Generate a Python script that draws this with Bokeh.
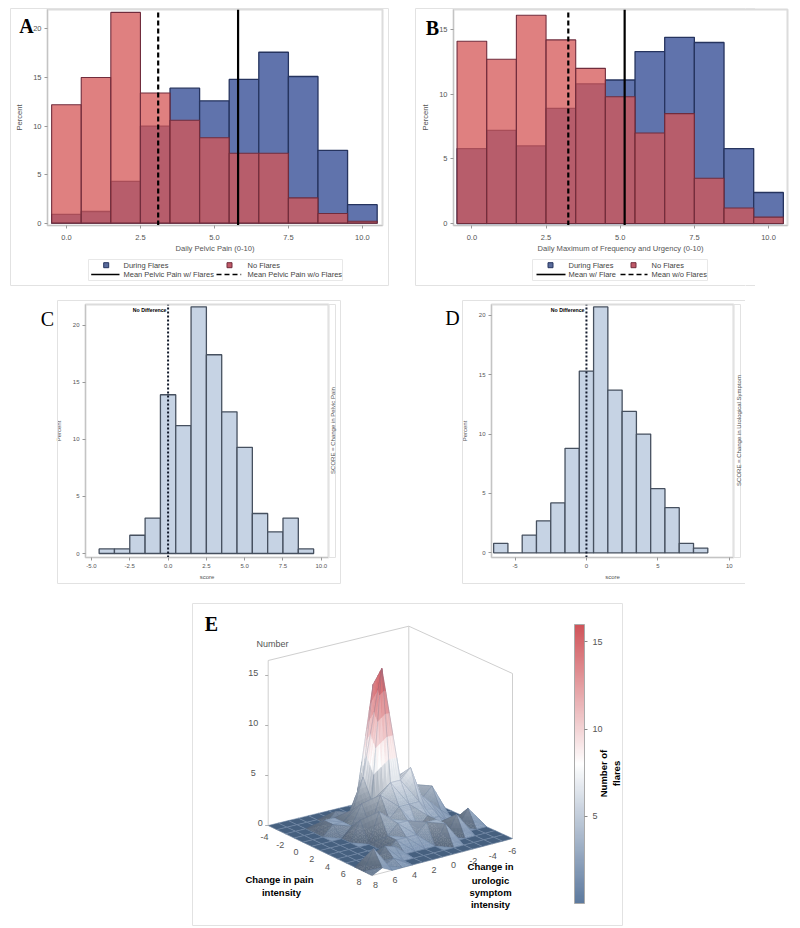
import math
from bokeh.embed import file_html
from bokeh.layouts import column
from bokeh.models import ColorBar, FixedTicker, LinearColorMapper, Range1d
from bokeh.plotting import figure
from bokeh.core.properties import value
from bokeh.resources import INLINE

# ---------- data ----------
HIST_BINS = [0, 1, 2, 3, 4, 5, 6, 7, 8, 9, 10]
A_DURING = [0.9, 1.2, 4.3, 10.0, 13.9, 12.6, 14.8, 17.6, 15.1, 7.5, 1.9]
A_NOFLARE = [12.2, 15.0, 21.7, 13.4, 10.6, 8.8, 7.2, 7.2, 2.6, 1.0, 0.2]
A_MEANS = [5.8, 3.1]
B_DURING = [5.8, 7.2, 6.0, 8.9, 10.8, 11.1, 13.3, 14.4, 14.0, 5.8, 2.4]
B_NOFLARE = [14.1, 12.7, 16.1, 14.2, 12.0, 9.8, 7.0, 8.5, 3.5, 1.2, 0.5]
B_MEANS = [5.15, 3.25]
C_BINS = [-4, -3, -2, -1, 0, 1, 2, 3, 4, 5, 6, 7, 8, 9]
C_PCT = [0.4, 0.4, 1.6, 3.1, 13.9, 11.2, 21.6, 17.4, 12.4, 9.3, 3.5, 1.9, 3.1, 0.4]
D_BINS = [-6, -5, -4, -3, -2, -1, 0, 1, 2, 3, 4, 5, 6, 7, 8]
D_PCT = [0.8, 0.0, 1.5, 2.7, 4.2, 8.8, 15.3, 20.7, 13.7, 11.9, 10.0, 5.4, 3.8, 0.8, 0.4]
E_PAIN = [-4, -3, -2, -1, 0, 1, 2, 3, 4, 5, 6, 7, 8]
E_URO = [-6, -5, -4, -3, -2, -1, 0, 1, 2, 3, 4, 5, 6, 7, 8]
E_Z = [
    [0, 0, 0, 0, 0, 0, 0, 0, 0, 0, 0, 0, 0, 0, 0],
    [0, 0, 0, 0, 0, 0, 0, 0, 0, 0, 0, 0, 0, 0, 0],
    [0, 0, 0, 0, 0, 0, 0, 0, 0, 1, 0, 0, 0, 0, 0],
    [0, 0, 0, 0, 0, 0, 0, 0, 1, 0, 1, 1, 0, 0, 0],
    [0, 0, 1, 3, 4, 3, 4, 14, 5, 2, 1, 1, 0, 0, 0],
    [0, 0, 3, 2, 3, 5, 4, 16, 3, 3, 1, 0, 0, 0, 0],
    [0, 0, 1, 2, 3, 6, 5, 5, 4, 1, 2, 0, 0, 0, 0],
    [0, 0, 0, 1, 1, 3, 3, 3, 2, 3, 0, 0, 0, 0, 0],
    [0, 1.7, 0, 0, 1, 2, 1, 2, 2, 1, 0, 0, 0, 0, 0],
    [0, 0, 0, 2, 0, 2, 2, 1, 1, 1, 0, 0, 0, 0, 0],
    [0, 0, 0, 0, 0, 2, 0, 0, 0, 0, 1, 1.3, 0, 0, 0],
    [0, 0, 0, 0, 0, 0, 0, 0, 0, 0, 0, 0.5, 0, 2, 0],
    [0, 0, 0, 0, 0, 0, 0, 0, 0, 0, 0, 0, 0, 0.5, 0],
]
E_ZTICKS = [0, 5, 10, 15]
E_AXTICKS_P = [-4, -2, 0, 2, 4, 6, 8]
E_AXTICKS_U = [8, 6, 4, 2, 0, -2, -4, -6]
A_LEGEND = ["During Flares", "No Flares", "Mean Pelvic Pain w/ Flares", "Mean Pelvic Pain w/o Flares"]
B_LEGEND = ["During Flares", "No Flares", "Mean w/ Flare", "Mean w/o Flares"]

# ---------- style ----------
SANS = "Liberation Sans"
SERIF = "Liberation Serif"
GRAY = "#dcdcdc"
TXT = "#555555"
BLUE, BLUE_LINE = "#6073ac", "#26345f"
RED, RED_LINE = "#d45555", "#702c3c"
LEFT_BORDER = 45  # every panel in the column keeps this left border, the column lines up their frames


def panel(win, frame, xr, yr, xticks, yticks, xlabel, xfmt=None, fs="7.5px", lfs="7.6px", ystand=5,
          xtick_stand=6, xlab_stand=1):
    x0, y0, x1, y1 = win
    l, t, r, b = frame
    p = figure(frame_width=r - l, frame_height=b - t, x_range=Range1d(*xr), y_range=Range1d(*yr),
               output_backend="svg", toolbar_location=None,
               min_border_left=l - x0, min_border_right=x1 - r, min_border_top=t - y0, min_border_bottom=y1 - b,
               border_fill_color=None, background_fill_color="white",
               styles={"position": "absolute", "left": f"{x0}px", "top": f"{y0}px"})
    p.grid.visible = False
    p.outline_line_color = GRAY
    p.outline_line_width = 2
    for ax in (p.xaxis[0], p.yaxis[0]):
        ax.axis_line_color = "#c4c4c4"
        ax.major_tick_line_color = "#999999"
        ax.major_tick_in = 0
        ax.major_tick_out = 3
        ax.minor_tick_line_color = None
        ax.major_label_text_font = SANS
        ax.major_label_text_font_size = fs
        ax.major_label_text_color = TXT
        ax.major_label_standoff = 3
        ax.axis_label_text_font = SANS
        ax.axis_label_text_font_size = lfs
        ax.axis_label_text_font_style = "normal"
        ax.axis_label_text_color = TXT
    p.xaxis[0].major_label_standoff = xtick_stand
    p.xaxis[0].axis_label_standoff = xlab_stand
    p.yaxis[0].axis_label_standoff = ystand
    p.xaxis[0].ticker = FixedTicker(ticks=xticks)
    p.yaxis[0].ticker = FixedTicker(ticks=yticks)
    if xfmt:
        p.xaxis[0].major_label_overrides = xfmt
    p.xaxis[0].axis_label = xlabel
    p.yaxis[0].axis_label = "Percent"
    return p


FMT25 = {-5: "-5.0", -2.5: "-2.5", 0: "0.0", 2.5: "2.5", 5: "5.0", 7.5: "7.5", 10: "10.0"}
FMT5 = {-5: "-5", 0: "0", 5: "5", 10: "10"}


def overlay_panel(win, frame, xr, yr, during, noflare, means, xlabel, yticks):
    p = panel(win, frame, xr, yr, [0, 2.5, 5, 7.5, 10], yticks, xlabel, FMT25, ystand=6)
    p.vbar(x=HIST_BINS, top=during, width=1, bottom=0, fill_color=BLUE, line_color=BLUE_LINE, line_width=1.3)
    p.vbar(x=HIST_BINS, top=noflare, width=1, bottom=0, fill_color=RED, fill_alpha=0.75,
           line_color=RED_LINE, line_width=1.1)
    p.line([means[0], means[0]], list(yr), line_color="black", line_width=2.2)
    p.line([means[1], means[1]], list(yr), line_color="black", line_width=2.2, line_dash="5 3")
    return p


def single_panel(win, frame, xr, yr, bins, pct, xticks, xfmt, yticks):
    p = panel(win, frame, xr, yr, xticks, yticks, "score", xfmt, "6px", "6px", 8, 3, 3)
    p.vbar(x=bins, top=pct, width=1, bottom=0, fill_color="#c6d3e4", line_color="#46505f", line_width=1.3)
    p.line([0, 0], list(yr), line_color="#10182a", line_width=2, line_dash="2 2")
    return p


pa = overlay_panel((2, 2, 392, 262), (47, 9, 382, 225), (-0.64, 10.68), (-0.24, 22.0), A_DURING, A_NOFLARE, A_MEANS,
                   "Daily Pelvic Pain (0-10)", [0, 5, 10, 15, 20])
pb = overlay_panel((408, 2, 797, 262), (453, 9, 787, 225), (-0.62, 10.64), (-0.15, 16.55), B_DURING, B_NOFLARE, B_MEANS,
                   "Daily Maximum of Frequency and Urgency (0-10)", [0, 5, 10, 15])
pc = single_panel((40, 296, 338, 590), (85, 304, 328, 557), (-5.39, 10.47), (-0.35, 21.8), C_BINS, C_PCT,
                  [-5, -2.5, 0, 2.5, 5, 7.5, 10], FMT25, [0, 5, 10, 15, 20])
pd_ = single_panel((446, 296, 743, 590), (491, 304, 733, 557), (-6.65, 10.3), (-0.39, 20.9), D_BINS, D_PCT,
                   [-5, 0, 5, 10], FMT5, [0, 5, 10, 15, 20])

# ---------- full page layer: panel frames, letters, legends, panel E ----------
pe = figure(frame_width=790, frame_height=928, x_range=Range1d(0, 790), y_range=Range1d(928, 0),
            x_axis_location=None, y_axis_location=None,
            output_backend="svg", toolbar_location=None, min_border=0, border_fill_color=None,
            background_fill_color=None,
            styles={"position": "absolute", "left": f"{-LEFT_BORDER}px", "top": "0px", "z-index": "10"})
pe.grid.visible = False
pe.outline_line_color = None

# narrow layer that carries the right end of panel B's frame
OVER_X = 745
pf = figure(frame_width=800 - OVER_X, frame_height=928, x_range=Range1d(OVER_X, 800), y_range=Range1d(928, 0),
            x_axis_location=None, y_axis_location=None,
            output_backend="svg", toolbar_location=None, min_border=0, border_fill_color=None,
            background_fill_color=None,
            styles={"position": "absolute", "left": f"{OVER_X - LEFT_BORDER}px", "top": "0px", "z-index": "10"})
pf.grid.visible = False
pf.outline_line_color = None


def txt(s, x, y, size="7.6px", color=TXT, style="normal", font=SANS, align="center", angle=0):
    pe.text([x], [y], text=[s], angle=angle, text_font=value(font), text_font_size=value(size), text_color=color,
            text_font_style=style, text_align=align, text_baseline="middle")


def box(l, t, r, b, color="#e2e2e2", w=1, fig=None):
    (fig or pe).quad(left=[l], right=[r], top=[t], bottom=[b], fill_color=None, line_color=color, line_width=w)


for o in [(10, 8, 388, 285), (415, 8, 787, 285), (57, 300, 340, 583), (462, 300, 745, 583), (192, 603, 622, 925)]:
    box(*o)
box(415, 8, 787, 285, fig=pf)
box(328, 304, 335, 557)
box(733, 304, 740, 557)

for s, x, y, st in [("A", 26, 25, "bold"), ("B", 432, 27, "bold"), ("C", 47, 318, "normal"), ("D", 452, 317, "normal"),
                    ("E", 211, 623, "bold")]:
    txt(s, x, y, "20px", "black", st, SERIF)

txt("No Difference", 166, 309, "5.2px", "black", "bold", align="right")
txt("No Difference", 584, 309, "5.2px", "black", "bold", align="right")
txt("SCORE = Change in Pelvic Pain", 332, 430, "6px", TXT, angle=math.pi / 2)
txt("SCORE = Change in Urological Symptom", 738, 430, "6px", TXT, angle=math.pi / 2)


def legend(labels, bx, y1, y2, sw1, l1, t1, sw2, l2, t2):
    box(*bx, color="#e8e8e8")
    pe.scatter([sw1], [y1], marker="square", size=5, fill_color="#5a6c9c", line_color=BLUE_LINE)
    pe.scatter([sw2], [y1], marker="square", size=5, fill_color="#c05a68", line_color=RED_LINE)
    pe.line(list(l1), [y2, y2], line_color="black", line_width=1.6)
    pe.line(list(l2), [y2, y2], line_color="black", line_width=1.6, line_dash="5 3")
    txt(labels[0], t1, y1, "7.5px", "#444444", align="left")
    txt(labels[1], t2, y1, "7.5px", "#444444", align="left")
    txt(labels[2], t1, y2, "7.5px", "#444444", align="left")
    txt(labels[3], t2, y2, "7.5px", "#444444", align="left")


legend(A_LEGEND, (88, 259, 342, 280), 264.7, 274, 105.7, (90.7, 119), 123, 229, (216, 240.7), 247)
legend(B_LEGEND, (532, 259, 707, 280), 264.7, 274, 550, (536, 565), 568, 633, (620, 647), 651)

# panel E surface
C_L, C_F, C_R, C_B = (267.7, 825.0), (371.7, 875.0), (512.0, 838.0), (408.3, 790.7)
Z_PX = 10.0
ZTOP = 16.5


def project(pain, uro, z):
    a = (pain - E_PAIN[0]) / (E_PAIN[-1] - E_PAIN[0])
    b = (E_URO[-1] - uro) / (E_URO[-1] - E_URO[0])
    x = (1 - a) * (1 - b) * C_L[0] + a * (1 - b) * C_F[0] + (1 - a) * b * C_B[0] + a * b * C_R[0]
    y = (1 - a) * (1 - b) * C_L[1] + a * (1 - b) * C_F[1] + (1 - a) * b * C_B[1] + a * b * C_R[1]
    return x, y - z * Z_PX


CM_LOW, CM_MID, CM_HIGH = (93, 122, 159), (255, 255, 255), (208, 84, 90)


def cmap(v, k=1.0):
    t = max(0.0, min(1.0, v / 16.0))
    if t < 0.5:
        c = [CM_LOW[i] + (CM_MID[i] - CM_LOW[i]) * t / 0.5 for i in range(3)]
    else:
        c = [CM_MID[i] + (CM_HIGH[i] - CM_MID[i]) * (t - 0.5) / 0.5 for i in range(3)]
    return "#%02x%02x%02x" % tuple(int(max(0, min(255, x * k))) for x in c)


PALETTE = [cmap(16 * i / 255) for i in range(256)]

LIGHT = (0.5, -0.5, 0.7)

xs, ys, fills, fa, lines, lw, la = [], [], [], [], [], [], []


def push(v, fill, alpha, line, width, lalpha):
    xs.append([project(*q)[0] for q in v])
    ys.append([project(*q)[1] for q in v])
    fills.append(fill)
    fa.append(alpha)
    lines.append(line)
    lw.append(width)
    la.append(lalpha)


def add_tri(v, k):
    N = 5
    a, b, c = v
    P = lambda i, j: tuple(a[m] + (b[m] - a[m]) * i / N + (c[m] - a[m]) * j / N for m in range(3))
    for i in range(N):
        for j in range(N - i):
            tris = [(P(i, j), P(i + 1, j), P(i, j + 1))]
            if i + j < N - 1:
                tris.append((P(i + 1, j), P(i + 1, j + 1), P(i, j + 1)))
            for t in tris:
                zm = sum(q[2] for q in t) / 3
                kk = k + (1 - k) * min(1.0, zm / 7)
                col = cmap(zm + 1.8 * (1 - zm / 16), kk)
                push(t, col, 1, col, 0.4, 1)
    push(v, "#000000", 0, "#4a6180", 0.4, 0.45)


def shade(v):
    (x1, y1, z1), (x2, y2, z2), (x3, y3, z3) = v
    ux, uy, uz = x2 - x1, y2 - y1, z2 - z1
    wx, wy, wz = x3 - x1, y3 - y1, z3 - z1
    n = [uy * wz - uz * wy, uz * wx - ux * wz, ux * wy - uy * wx]
    if n[2] < 0:
        n = [-c for c in n]
    m = math.sqrt(sum(c * c for c in n)) or 1
    d = sum(n[i] * LIGHT[i] for i in range(3)) / m
    return max(0.66, min(1.0, 0.55 + 0.65 * d))


for i in range(len(E_PAIN) - 1):
    for j in range(len(E_URO) - 1):
        p0, p1 = E_PAIN[i], E_PAIN[i + 1]
        u0, u1 = E_URO[j], E_URO[j + 1]
        q00 = (p0, u0, E_Z[i][j])
        q01 = (p0, u1, E_Z[i][j + 1])
        q10 = (p1, u0, E_Z[i + 1][j])
        q11 = (p1, u1, E_Z[i + 1][j + 1])
        if all(q[2] == 0 for q in (q00, q01, q10, q11)):
            push((q00, q01, q11, q10), "#46607f", 1, "#7288a6", 0.6, 0.9)
        else:
            for tri in ((q00, q01, q10), (q01, q11, q10)):
                add_tri(tri, shade(tri))

WALL = dict(line_color="#cfcfcf", line_width=1)
P0, P1, U0, U1 = E_PAIN[0], E_PAIN[-1], E_URO[0], E_URO[-1]
for a0, a1 in [((P0, U1, 0), (P0, U1, ZTOP)), ((P0, U1, ZTOP), (P0, U0, ZTOP)), ((P0, U0, ZTOP), (P1, U0, ZTOP)),
               ((P1, U0, ZTOP), (P1, U0, 0)), ((P0, U0, 0), (P0, U0, ZTOP)), ((P0, U1, 0), (P1, U1, 0)),
               ((P1, U1, 0), (P1, U0, 0))]:
    pe.line([project(*a0)[0], project(*a1)[0]], [project(*a0)[1], project(*a1)[1]], **WALL)

pe.patches(xs, ys, fill_color=fills, fill_alpha=fa, line_color=lines, line_width=lw, line_alpha=la)

for v in E_ZTICKS:
    x, y = project(P0, U1, v)
    txt(str(v), x - 15 + (7 if v == 0 else 0), y - 3, "9px")
    pe.line([x - 3, x], [y, y], line_color="#b0b0b0", line_width=1)
for v in E_AXTICKS_P:
    x, y = project(v, U1, 0)
    t = (v - P0) / (P1 - P0)
    txt(str(v), x - 3.7 - 9.6 * t, y + 11.7 - 5.7 * t, "9px")
for v in E_AXTICKS_U:
    x, y = project(P1, v, 0)
    t = (v - U0) / (U1 - U0)
    txt(str(v), x - 0.3 + 3.6 * t, y + 12.7 - 3.7 * t, "9px")
txt("Number", 272, 643, "9px")

for s, x, y in [("Change in pain", 279, 879), ("intensity", 281, 892), ("Change in", 490, 866), ("urologic", 490, 880),
                ("symptom", 490, 892), ("intensity", 490, 904)]:
    txt(s, x, y, "9.5px", "black", "bold")
txt("Number of", 603, 773, "9.5px", "black", "bold", angle=math.pi / 2)
txt("flares", 616, 773, "9.5px", "black", "bold", angle=math.pi / 2)

cb = ColorBar(color_mapper=LinearColorMapper(palette=PALETTE, low=0, high=16), location=(574, 928 - 903),
              width=10, height=279, ticker=FixedTicker(ticks=[5, 10, 15]), padding=0, margin=0,
              major_label_text_font=SANS, major_label_text_font_size="9px", major_label_text_color=TXT,
              major_tick_line_color="#888888", major_tick_out=3, major_tick_in=0, minor_tick_line_color=None,
              bar_line_color="#aaaaaa", background_fill_alpha=0, border_line_color=None)
pe.add_layout(cb, "center")

layout = column(pa, pb, pc, pd_, pe, pf, width=800, height=928)
open("out.html", "w").write(file_html(layout, INLINE))
